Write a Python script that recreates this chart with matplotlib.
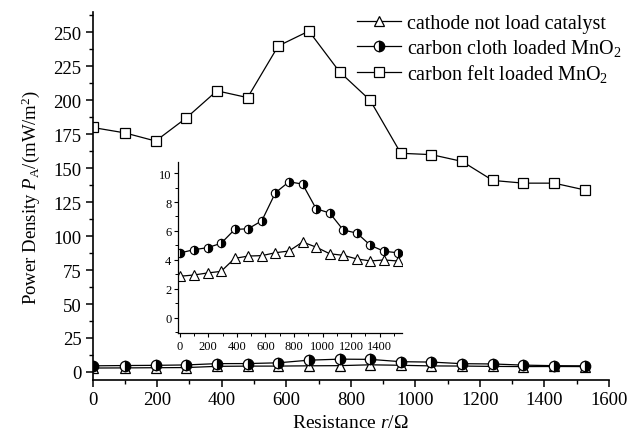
import matplotlib
matplotlib.use("Agg")
import matplotlib.pyplot as plt
from matplotlib.ticker import MultipleLocator

plt.rcParams["font.family"] = ["Liberation Serif", "DejaVu Serif"]
plt.rcParams["mathtext.fontset"] = "custom"
plt.rcParams["mathtext.rm"] = "Liberation Serif"
plt.rcParams["mathtext.it"] = "Liberation Serif:italic"

# resistance (ohm)
resistance = [0, 100, 195, 290, 385, 480, 575, 670, 765, 860, 955, 1050, 1145, 1240, 1335, 1430, 1525]
# power density (mW/m2)
no_catalyst = [2.86, 2.95, 3.09, 3.2, 4.1, 4.26, 4.29, 4.49, 4.61, 5.23, 4.88, 4.42, 4.31, 4.06, 3.92, 3.99, 3.92]
cloth_mno2 = [4.47, 4.7, 4.84, 5.14, 6.1, 6.15, 6.7, 8.64, 9.4, 9.24, 7.53, 7.24, 6.06, 5.85, 5.0, 4.59, 4.49]
felt_mno2 = [180, 176, 170, 187, 207, 202, 240, 251, 221, 200, 161, 160, 155, 141, 139, 139, 134]

labels = ["cathode not load catalyst", "carbon cloth loaded MnO$_2$", "carbon felt loaded MnO$_2$"]

fig = plt.figure(figsize=(6.41, 4.35), dpi=100)
ax = fig.add_axes([0.1446, 0.124, 0.8054, 0.846])

tri_kw = dict(color="black", lw=0.9, marker="^", mfc="white", mec="black")
cir_kw = dict(color="black", lw=0.9, marker="o", fillstyle="right", mfc="black", mfcalt="white", mec="black")
sq_kw = dict(color="black", lw=0.9, marker="s", mfc="white", mec="black")

l3, = ax.plot(resistance, felt_mno2, ms=7.5, mew=0.9, label=labels[2], **sq_kw)
l1, = ax.plot(resistance, no_catalyst, ms=7.5, mew=0.9, label=labels[0], **tri_kw)
l2, = ax.plot(resistance, cloth_mno2, ms=7.5, mew=0.9, label=labels[1], **cir_kw)

ax.set_xlim(0, 1600)
ax.set_ylim(-6, 265)
ax.xaxis.set_major_locator(MultipleLocator(200))
ax.xaxis.set_minor_locator(MultipleLocator(100))
ax.yaxis.set_major_locator(MultipleLocator(25))
ax.yaxis.set_minor_locator(MultipleLocator(12.5))
ax.spines["top"].set_visible(False)
ax.spines["right"].set_visible(False)
for s in ("left", "bottom"):
    ax.spines[s].set_linewidth(1.2)
ax.tick_params(which="major", direction="out", length=5, width=1.1, labelsize=13.5, pad=3)
ax.tick_params(which="minor", direction="out", length=3, width=1.0)
ax.set_xlabel("Resistance $\\mathit{r}$/Ω", fontsize=14, labelpad=4)
ax.set_ylabel("Power Density $\\mathit{P}_\\mathrm{A}$/(mW/m$^2$)", fontsize=13.5, labelpad=8)

ax.legend(handles=[l1, l2, l3], loc="upper right", bbox_to_anchor=(1.06, 1.045), frameon=False,
          fontsize=14.5, handlelength=2.2, handletextpad=0.3, labelspacing=0.2, markerscale=1.0)

# inset
ins = fig.add_axes([0.278, 0.232, 0.349, 0.393])
ins.plot(resistance, no_catalyst, ms=6.5, mew=0.8, **tri_kw)
ins.plot(resistance, cloth_mno2, ms=6, mew=0.8, **cir_kw)
ins.set_xlim(-10, 1555)
ins.set_ylim(-1.07, 10.76)
ins.xaxis.set_major_locator(MultipleLocator(200))
ins.xaxis.set_minor_locator(MultipleLocator(100))
ins.yaxis.set_major_locator(MultipleLocator(2))
ins.yaxis.set_minor_locator(MultipleLocator(1))
ins.spines["top"].set_visible(False)
ins.spines["right"].set_visible(False)
ins.patch.set_alpha(0)
for s in ("left", "bottom"):
    ins.spines[s].set_linewidth(0.9)
ins.tick_params(which="major", direction="out", length=3, width=0.8, labelsize=9, pad=2)
ins.tick_params(which="minor", direction="out", length=2, width=0.7)

fig.savefig("out.png", dpi=100)
